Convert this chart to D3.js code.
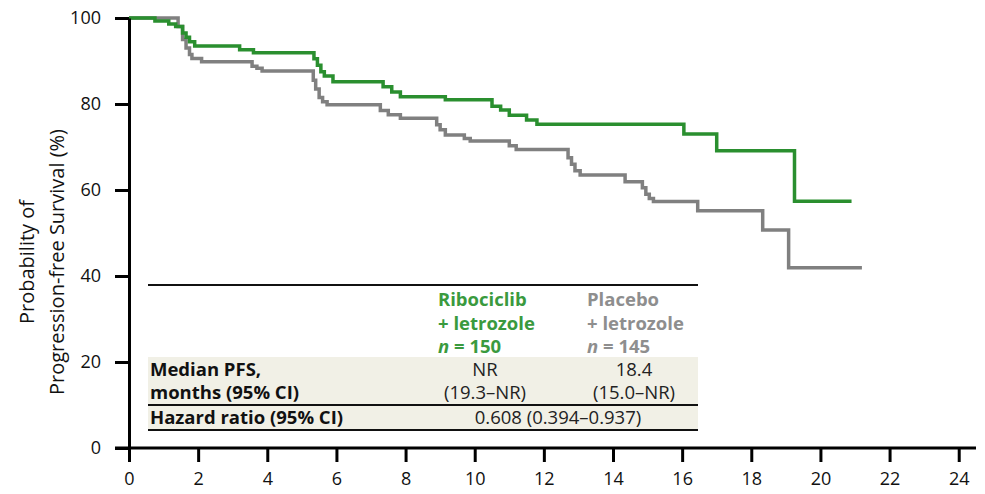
<!DOCTYPE html>
<html>
<head>
<meta charset="utf-8">
<script src="https://cdn.jsdelivr.net/npm/d3@7"></script>
<style>
  body { margin: 0; background: #fff; }
  text { font-family: "Open Sans", sans-serif; }
</style>
</head>
<body>
<div id="chart"></div>
<script>
// Kaplan-Meier steps (months, % progression-free)
var riboTimes = [0, 0.75, 1.15, 1.35, 1.55, 1.65, 1.75, 1.9, 3.2, 3.6, 5.35, 5.45, 5.55, 5.65, 5.9, 7.35, 7.6, 7.85, 9.15, 10.5, 10.75, 11.0, 11.5, 11.8, 16.05, 17.0, 19.25, 20.9];
var riboSurv = [100, 99.3, 98.6, 98.0, 96.5, 95.5, 94.5, 93.5, 92.6, 91.9, 90.5, 89, 87.5, 86.5, 85.2, 84.0, 82.8, 81.7, 81.0, 79.5, 78.6, 77.4, 76.3, 75.3, 73.0, 69.1, 57.4, 57.4];

var placTimes = [0, 1.42, 1.55, 1.65, 1.75, 1.82, 2.1, 3.56, 3.7, 3.85, 5.33, 5.4, 5.5, 5.6, 5.73, 7.27, 7.5, 7.85, 8.9, 9.0, 9.15, 9.7, 9.87, 11.0, 11.2, 12.7, 12.8, 12.9, 13.05, 14.35, 14.85, 14.95, 15.05, 15.17, 16.45, 18.33, 19.08, 21.2];
var placSurv = [100, 98, 95, 93, 91.5, 90.6, 89.8, 88.8, 88.3, 87.7, 85.5, 83.5, 81.5, 80.5, 79.8, 78.5, 77.5, 76.7, 75.2, 74.0, 72.8, 72.0, 71.4, 70.3, 69.4, 67.5, 66, 64.5, 63.5, 61.9, 60.5, 59, 58, 57.3, 55.2, 50.7, 41.9, 41.9];

var xTicks = [0, 2, 4, 6, 8, 10, 12, 14, 16, 18, 20, 22, 24];
var yTicks = [0, 20, 40, 60, 80, 100];

var armNames = ["Ribociclib", "Placebo"];
var armSub = ["+ letrozole", "+ letrozole"];
var armN = ["150", "145"];
var medianPFS = ["NR", "18.4"];
var medianCI = ["(19.3\u2013NR)", "(15.0\u2013NR)"];
var hazard = "0.608 (0.394\u20130.937)";

var green = "#2a8f2f", gray = "#808080";
var greenTxt = "#3a9a3e", grayTxt = "#8e8e8e";

var W = 985, H = 494;
var svg = d3.select("#chart").append("svg")
    .attr("width", W).attr("height", H);

var x = d3.scaleLinear().domain([0, 24.5]).range([129, 976]);
var y = d3.scaleLinear().domain([0, 100]).range([448, 18]);

// table (drawn first so curves sit on top)
var tL = 148, tR = 698;
svg.append("rect")
    .attr("x", tL).attr("y", 357).attr("width", tR - tL).attr("height", 73)
    .attr("fill", "#f1f0e6");
[285, 405, 430].forEach(function (yy) {
    svg.append("line")
        .attr("x1", tL).attr("x2", tR).attr("y1", yy).attr("y2", yy)
        .attr("stroke", "#111").attr("stroke-width", 2);
});

var colX = [438, 587], colC = [485, 634];
var cols = [greenTxt, grayTxt];
var fs = 18.5;
[0, 1].forEach(function (i) {
    svg.append("text").attr("x", colX[i]).attr("y", 306).attr("fill", cols[i])
        .attr("font-size", fs).attr("font-weight", "bold").text(armNames[i]);
    svg.append("text").attr("x", colX[i]).attr("y", 330).attr("fill", cols[i])
        .attr("font-size", fs).attr("font-weight", "bold").text(armSub[i]);
    var t = svg.append("text").attr("x", colX[i]).attr("y", 353).attr("fill", cols[i])
        .attr("font-size", fs).attr("font-weight", "bold");
    t.append("tspan").attr("font-style", "italic").text("n");
    t.append("tspan").text(" = " + armN[i]);
    svg.append("text").attr("x", colC[i]).attr("y", 376).attr("text-anchor", "middle")
        .attr("font-size", fs).attr("fill", "#222").text(medianPFS[i]);
    svg.append("text").attr("x", colC[i]).attr("y", 399).attr("text-anchor", "middle")
        .attr("font-size", fs).attr("fill", "#222").text(medianCI[i]);
});
svg.append("text").attr("x", 150).attr("y", 376).attr("font-size", fs)
    .attr("font-weight", "bold").attr("fill", "#111").text("Median PFS,");
svg.append("text").attr("x", 150).attr("y", 399).attr("font-size", fs)
    .attr("font-weight", "bold").attr("fill", "#111").text("months (95% CI)");
svg.append("text").attr("x", 150).attr("y", 424).attr("font-size", fs)
    .attr("font-weight", "bold").attr("fill", "#111").text("Hazard ratio (95% CI)");
svg.append("text").attr("x", 558).attr("y", 424).attr("text-anchor", "middle")
    .attr("font-size", fs).attr("fill", "#222").text(hazard);

// curves
var line = d3.line()
    .x(function (d) { return x(d[0]); })
    .y(function (d) { return y(d[1]); })
    .curve(d3.curveStepAfter);

svg.append("path")
    .datum(d3.zip(placTimes, placSurv))
    .attr("fill", "none").attr("stroke", gray).attr("stroke-width", 3.5)
    .attr("d", line);
svg.append("path")
    .datum(d3.zip(riboTimes, riboSurv))
    .attr("fill", "none").attr("stroke", green).attr("stroke-width", 3.5)
    .attr("d", line);

// axes
var xAxis = svg.append("g")
    .attr("transform", "translate(0,448)")
    .call(d3.axisBottom(x).tickValues(xTicks).tickSize(14).tickPadding(10).tickSizeOuter(0));
var yAxis = svg.append("g")
    .attr("transform", "translate(129,0)")
    .call(d3.axisLeft(y).tickValues(yTicks).tickSize(14).tickPadding(14).tickSizeOuter(0));

[xAxis, yAxis].forEach(function (g) {
    g.select(".domain").attr("stroke", "#000").attr("stroke-width", 3);
    g.selectAll(".tick line").attr("stroke", "#000").attr("stroke-width", 3);
    g.selectAll(".tick text").attr("font-size", 18).attr("fill", "#111")
        .style("font-family", "'Open Sans', sans-serif");
});
xAxis.select(".domain").attr("d", "M115,0H976");

// y label
svg.append("text")
    .attr("text-anchor", "middle")
    .attr("transform", "translate(34,262)rotate(-90)")
    .attr("font-size", 20).attr("fill", "#111")
    .text("Probability of");
svg.append("text")
    .attr("text-anchor", "middle")
    .attr("transform", "translate(64,262)rotate(-90)")
    .attr("font-size", 20).attr("fill", "#111")
    .text("Progression-free Survival (%)");
</script>
</body>
</html>
